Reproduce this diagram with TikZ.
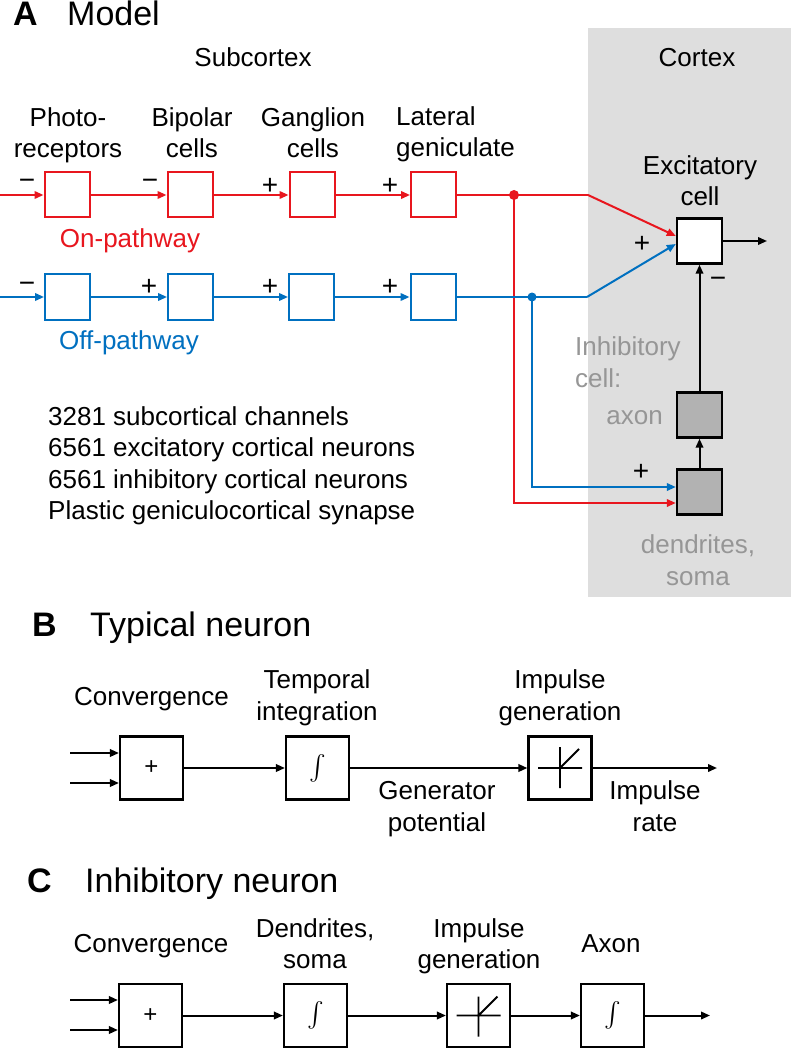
\documentclass[tikz,border=0pt]{standalone}
\usepackage{fontspec}
\setmainfont{Liberation Sans}
\usetikzlibrary{arrows.meta}
\definecolor{cred}{RGB}{232,22,30}
\definecolor{cblue}{RGB}{0,112,192}
\definecolor{cbg}{RGB}{222,222,222}
\definecolor{cfill}{RGB}{178,178,178}
\definecolor{cgtxt}{RGB}{150,150,150}
\newcommand{\bigint}{\scalebox{2.5}{$\int$}}
\begin{document}
\begin{tikzpicture}[x=1pt,y=-1pt,
  txt/.style={anchor=base,font=\fontsize{26}{31}\selectfont,inner sep=0pt},
  txtw/.style={anchor=base west,font=\fontsize{26}{31}\selectfont,inner sep=0pt},
  ttl/.style={anchor=base west,font=\fontsize{34}{40}\selectfont,inner sep=0pt},
  ttlb/.style={anchor=base west,font=\fontsize{34}{40}\selectfont\bfseries,inner sep=0pt},
  sgn/.style={font=\fontsize{28}{32}\selectfont,inner sep=0pt},
  rbox/.style={draw=cred,line width=2pt,minimum size=45pt,inner sep=0pt,fill=white},
  bbox/.style={draw=cblue,line width=2pt,minimum size=45pt,inner sep=0pt,fill=white},
  kbox/.style={draw=black,line width=2.4pt,minimum size=45pt,inner sep=0pt,fill=white},
  gbox/.style={draw=black,line width=2.4pt,minimum size=45pt,inner sep=0pt,fill=cfill},
  fbox/.style={draw=black,line width=2.2pt,minimum size=63pt,inner sep=0pt,fill=white},
  arr/.style={-{Triangle[length=9pt,width=7.5pt]},line width=2pt},
  ln/.style={line width=2pt}
]
\useasboundingbox (0,0) rectangle (791,1048);
\fill[white] (0,0) rectangle (791,1048);
\fill[cbg] (588,28) rectangle (791,597);

% ---------- Panel A ----------
\node[ttlb] (tA) at (13,26) {A};
\node[ttl] (tAm) at (67,26) {Model};
\node[txt] (sub) at (253,67) {Subcortex};
\node[txt] (cor) at (697,67) {Cortex};

\node[txt] (l1a) at (68,127) {Photo-};
\node[txt] (l1b) at (68,158) {receptors};
\node[txt] (l2a) at (192,127) {Bipolar};
\node[txt] (l2b) at (192,158) {cells};
\node[txt] (l3a) at (313,127) {Ganglion};
\node[txt] (l3b) at (313,158) {cells};
\node[txtw] (l4a) at (396,126) {Lateral};
\node[txtw] (l4b) at (396,157) {geniculate};
\node[txt] (l5a) at (700,175) {Excitatory};
\node[txt] (l5b) at (700,206) {cell};

% red row
\coordinate (rin) at (0,195);
\node[rbox] (r1) at (67,195) {};
\node[rbox] (r2) at (190,195) {};
\node[rbox] (r3) at (312,195) {};
\node[rbox] (r4) at (433.5,195) {};
\coordinate (rj) at (514,195);
\coordinate (rc) at (588,195);

% blue row
\coordinate (bin) at (0,297);
\node[bbox] (b1) at (67.5,297) {};
\node[bbox] (b2) at (190.5,297) {};
\node[bbox] (b3) at (311.5,297) {};
\node[bbox] (b4) at (433,297) {};
\coordinate (bj) at (532,297);
\coordinate (bc) at (587,297);

% cortex cells
\node[kbox] (exc) at (699.5,241) {};
\coordinate (eout) at (767,241);
\node[gbox] (axn) at (699.5,415) {};
\node[gbox] (den) at (699.5,492) {};

% red connections
\draw[arr,cred] (rin) -- (r1);
\draw[arr,cred] (r1) -- (r2);
\draw[arr,cred] (r2) -- (r3);
\draw[arr,cred] (r3) -- (r4);
\draw[ln,cred] (r4) -- (rj) -- (rc);
\draw[arr,cred] (rc) -- ([yshift=5pt]exc.west);
\draw[arr,cred] (rj) |- ([yshift=-11pt]den.west);
\fill[cred] (rj) circle[radius=5pt];

% blue connections
\draw[arr,cblue] (bin) -- (b1);
\draw[arr,cblue] (b1) -- (b2);
\draw[arr,cblue] (b2) -- (b3);
\draw[arr,cblue] (b3) -- (b4);
\draw[ln,cblue] (b4) -- (bj) -- (bc);
\draw[arr,cblue] (bc) -- ([yshift=-3pt]exc.west);
\draw[arr,cblue] (bj) |- ([yshift=5pt]den.west);
\fill[cblue] (bj) circle[radius=4.5pt];

% black connections
\draw[arr] (exc) -- (eout);
\draw[arr] (den) -- (axn);
\draw[arr] (axn) -- (exc);

% signs
\node[sgn] (s1) at (27,184) {−};
\node[sgn] (s2) at (150,184) {−};
\node[sgn] (s3) at (270,186) {+};
\node[sgn] (s4) at (390,186) {+};
\node[sgn] (s5) at (27,287) {−};
\node[sgn] (s6) at (149,287) {+};
\node[sgn] (s7) at (270,287) {+};
\node[sgn] (s8) at (390,287) {+};
\node[sgn] (s9) at (642,244) {+};
\node[sgn] (s10) at (718,282) {−};
\node[sgn] (s11) at (641,472) {+};

\node[txt,text=cred] (onp) at (130,248) {On-pathway};
\node[txt,text=cblue] (offp) at (129,349) {Off-pathway};

\node[txtw,text=cgtxt] (ih1) at (575,355) {Inhibitory};
\node[txtw,text=cgtxt] (ih2) at (575,387) {cell:};
\node[txt,anchor=base east,text=cgtxt] (axl) at (663,424) {axon};
\node[txt,text=cgtxt] (dl1) at (698,553) {dendrites,};
\node[txt,text=cgtxt] (dl2) at (698,585) {soma};

\node[txtw] (n1) at (48,425) {3281 subcortical channels};
\node[txtw] (n2) at (48,456.5) {6561 excitatory cortical neurons};
\node[txtw] (n3) at (48,488) {6561 inhibitory cortical neurons};
\node[txtw] (n4) at (48,519.5) {Plastic geniculocortical synapse};

% ---------- Panel B ----------
\node[ttlb] (tB) at (32,636) {B};
\node[ttl] (tBt) at (90,636) {Typical neuron};
\node[txt] (bl1) at (151.5,705) {Convergence};
\node[txt] (bl2a) at (317,688) {Temporal};
\node[txt] (bl2b) at (317,720) {integration};
\node[txt] (bl3a) at (560,688) {Impulse};
\node[txt] (bl3b) at (560,720) {generation};
\node[txt] (bl4a) at (437,799) {Generator};
\node[txt] (bl4b) at (437,831) {potential};
\node[txt] (bl5a) at (655,799) {Impulse};
\node[txt] (bl5b) at (655,831) {rate};

\coordinate (bi1) at (70,753);
\coordinate (bi2) at (70,783);
\node[fbox,font=\fontsize{24}{28}\selectfont] (B1) at (151.5,768) {+};
\node[fbox] (B2) at (317.5,768) {\bigint};
\node[fbox] (B3) at (560,768) {};
\coordinate (bout) at (717,768);
\draw[arr] (bi1) -- (bi1 -| B1.west);
\draw[arr] (bi2) -- (bi2 -| B1.west);
\draw[arr] (B1) -- (B2);
\draw[arr] (B2) -- (B3);
\draw[arr] (B3) -- (bout);
\draw[line width=1.8pt] ([xshift=-22pt]B3.center) -- ([xshift=22pt]B3.center)
  ([yshift=21pt]B3.center) -- ([yshift=-20pt]B3.center)
  (B3.center) -- ([xshift=19pt,yshift=19pt]B3.center);

% ---------- Panel C ----------
\node[ttlb] (tC) at (27,892) {C};
\node[ttl] (tCt) at (85,892) {Inhibitory neuron};
\node[txt] (cl1) at (151,952) {Convergence};
\node[txt] (cl2a) at (315,937) {Dendrites,};
\node[txt] (cl2b) at (315,968) {soma};
\node[txt] (cl3a) at (479,937) {Impulse};
\node[txt] (cl3b) at (479,968) {generation};
\node[txt] (cl4) at (611,952) {Axon};

\coordinate (ci1) at (70,1000);
\coordinate (ci2) at (70,1030);
\node[fbox,font=\fontsize{24}{28}\selectfont] (C1) at (150.5,1015.5) {+};
\node[fbox] (C2) at (315.5,1015.5) {\bigint};
\node[fbox] (C3) at (478.5,1015.5) {};
\node[fbox] (C4) at (612.5,1015.5) {\bigint};
\coordinate (cout) at (710,1015.5);
\draw[arr] (ci1) -- (ci1 -| C1.west);
\draw[arr] (ci2) -- (ci2 -| C1.west);
\draw[arr] (C1) -- (C2);
\draw[arr] (C2) -- (C3);
\draw[arr] (C3) -- (C4);
\draw[arr] (C4) -- (cout);
\draw[line width=1.8pt] ([xshift=-22pt]C3.center) -- ([xshift=22pt]C3.center)
  ([yshift=19pt]C3.center) -- ([yshift=-21pt]C3.center)
  (C3.center) -- ([xshift=19pt,yshift=19pt]C3.center);
\end{tikzpicture}
\end{document}
